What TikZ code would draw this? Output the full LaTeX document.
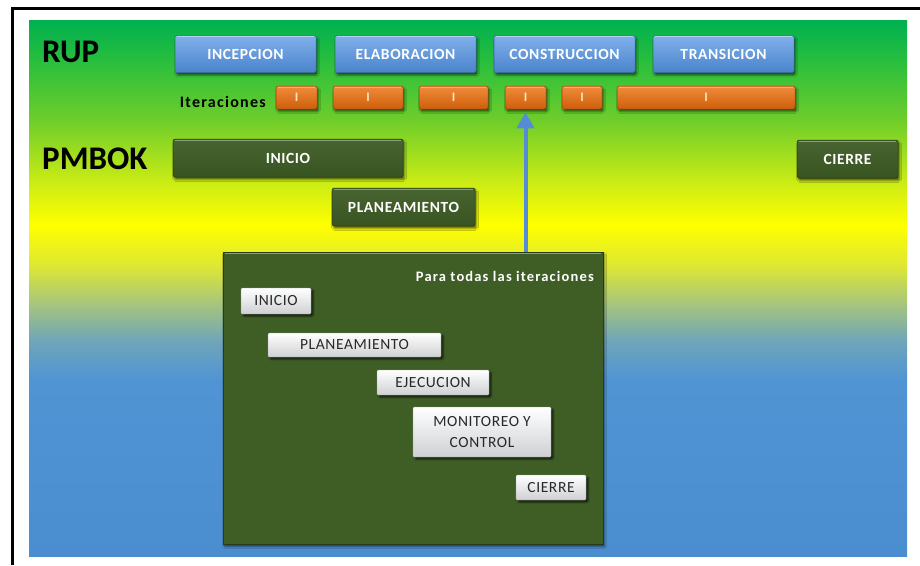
\documentclass[tikz,border=0pt]{standalone}
\usepackage{fontspec}
\setmainfont{Carlito}
\newfontfamily\boxfont[LetterSpace=4]{Carlito}
\newfontfamily\widefont[LetterSpace=8]{Carlito}
\newfontfamily\headfont{Carlito}
\usetikzlibrary{arrows.meta,shadows.blur}

% background fade, bottom to top; the shaded area spans 25bp..75bp
\definecolor{bgA}{RGB}{75,142,208}
\definecolor{bgB}{RGB}{80,148,212}
\definecolor{bgC}{RGB}{112,166,184}
\definecolor{bgD}{RGB}{172,200,118}
\definecolor{bgE}{RGB}{222,232,50}
\definecolor{bgF}{RGB}{255,255,0}
\definecolor{bgG}{RGB}{200,235,22}
\definecolor{bgH}{RGB}{110,205,42}
\definecolor{bgI}{RGB}{40,190,62}
\definecolor{bgJ}{RGB}{0,176,80}
\pgfdeclareverticalshading{bgfade}{100bp}{%
  color(0bp)=(bgA); color(25bp)=(bgA); color(41.42bp)=(bgB);
  color(45.15bp)=(bgC); color(48.88bp)=(bgD); color(52.14bp)=(bgE);
  color(55.88bp)=(bgF); color(60.07bp)=(bgG); color(65.67bp)=(bgH);
  color(71.27bp)=(bgI); color(75bp)=(bgJ); color(100bp)=(bgJ)}

\definecolor{phaseTop}{RGB}{128,176,234}
\definecolor{phaseBot}{RGB}{74,132,204}
\definecolor{phaseEdge}{RGB}{60,104,160}
\definecolor{iterTop}{RGB}{240,140,60}
\definecolor{iterBot}{RGB}{206,94,10}
\definecolor{iterEdge}{RGB}{150,70,10}
\definecolor{iterText}{RGB}{252,228,190}
\definecolor{pmTop}{RGB}{72,100,48}
\definecolor{pmBot}{RGB}{56,84,32}
\definecolor{pmEdge}{RGB}{40,58,25}
\definecolor{pmRim}{RGB}{140,160,125}
\definecolor{panelFill}{RGB}{62,94,38}
\definecolor{stepText}{RGB}{40,40,40}
\definecolor{stepBot}{RGB}{206,208,210}
\definecolor{stepEdge}{RGB}{150,150,150}
\definecolor{arrowBlue}{RGB}{86,140,214}

\begin{document}
\begin{tikzpicture}[x=1pt,y=-1pt,
  boxshadow/.style={blur shadow={shadow xshift=1.5pt,shadow yshift=-2.5pt,
      shadow blur radius=2pt,shadow opacity=60}},
  rim/.style={path picture={\draw[#1,line width=1.2pt]
      ([xshift=2pt,yshift=-1.3pt]path picture bounding box.north west) --
      ([xshift=-2pt,yshift=-1.3pt]path picture bounding box.north east);}},
  phase/.style={rectangle,rounded corners=1.5pt,inner sep=0pt,
    minimum width=141pt,minimum height=37pt,
    top color=phaseTop,bottom color=phaseBot,draw=phaseEdge,line width=0.5pt,
    boxshadow,rim={phaseTop!60!white},
    text=white,font=\boxfont\fontsize{15.5}{18}\selectfont\bfseries},
  iter/.style={rectangle,rounded corners=1.5pt,inner sep=0pt,
    minimum height=23pt,
    top color=iterTop,bottom color=iterBot,draw=iterEdge,line width=0.5pt,
    boxshadow,rim={iterTop!70!white},
    text=iterText,font=\headfont\fontsize{13}{14}\selectfont\bfseries},
  pmbox/.style={rectangle,rounded corners=1.5pt,inner sep=0pt,
    minimum height=38pt,
    top color=pmTop,bottom color=pmBot,draw=pmEdge,line width=0.5pt,
    boxshadow,rim=pmRim,
    text=white,font=\boxfont\fontsize{15.5}{18}\selectfont\bfseries},
  panel/.style={rectangle,inner sep=0pt,fill=panelFill,draw=pmEdge,
    line width=0.5pt,boxshadow,rim=pmRim},
  stepbox/.style={rectangle,rounded corners=1pt,inner sep=0pt,
    top color=white,bottom color=stepBot,draw=stepEdge,line width=0.4pt,
    blur shadow={shadow xshift=2pt,shadow yshift=-2pt,
      shadow blur radius=1.5pt,shadow opacity=70},
    text=stepText,align=center,
    font=\boxfont\fontsize{15.5}{21}\selectfont},
  title/.style={font=\headfont\fontsize{33}{36}\selectfont\bfseries,
    text=black,inner sep=0pt},
  link/.style={arrowBlue,line width=4pt,
    -{Triangle[width=17pt,length=16pt]}}
]
\useasboundingbox (0,0) rectangle (920,565);
\fill[white] (0,0) rectangle (920,565);

% fading background and the outer frame
\shade[shading=bgfade] (29,20) rectangle (907,556);
\draw[line width=3pt] (12.5,565) -- (12.5,8.5) -- (920,8.5);

% row titles
\node[title,anchor=base west] (rup) at (42,62) {RUP};
\node[title,anchor=base west] (pmbok) at (42,169) {PMBOK};

% RUP phases
\node[phase] (incep) at (245.5,54) {INCEPCION};
\node[phase] (elab)  at (405.5,54) {ELABORACION};
\node[phase] (const) at (564.5,54) {CONSTRUCCION};
\node[phase] (trans) at (723.5,54) {TRANSICION};

% iterations
\node[font=\widefont\fontsize{16}{18}\selectfont\bfseries,anchor=base east,
  inner sep=0pt] (iterlbl) at (266,107) {Iteraciones};
\node[iter,minimum width=41pt]  (it1) at (296.5,97.5) {I};
\node[iter,minimum width=70pt]  (it2) at (368,97.5)   {I};
\node[iter,minimum width=69pt]  (it3) at (453.5,97.5) {I};
\node[iter,minimum width=41pt]  (it4) at (525.5,97.5) {I};
\node[iter,minimum width=40pt]  (it5) at (582,97.5)   {I};
\node[iter,minimum width=178pt] (it6) at (706,97.5)   {I};

% PMBOK process groups
\node[pmbox,minimum width=230pt] (pinicio) at (288,158)   {INICIO};
\node[pmbox,minimum width=143pt] (pplan)   at (403.5,207) {PLANEAMIENTO};
\node[pmbox,minimum width=101pt] (pcierre) at (847.5,159) {CIERRE};

% per-iteration panel
\node[panel,minimum width=380pt,minimum height=292pt] (panel) at (413,398) {};
\node[font=\widefont\fontsize{14.5}{17}\selectfont\bfseries,text=white,
  anchor=base east,inner sep=0pt] (ptitle) at (594,281)
  {Para todas las iteraciones};

\node[stepbox,minimum width=70pt,minimum height=26pt]  (sinicio) at (276,301)   {INICIO};
\node[stepbox,minimum width=173pt,minimum height=24pt] (splan)   at (354.5,345) {PLANEAMIENTO};
\node[stepbox,minimum width=112pt,minimum height=25pt] (sejec)   at (433,382.5) {EJECUCION};
\node[stepbox,minimum width=138pt,minimum height=50pt] (smon)    at (482,432)   {MONITOREO Y\\CONTROL};
\node[stepbox,minimum width=70pt,minimum height=25pt]  (scierre) at (551,487.5) {CIERRE};

% the panel applies to every iteration
\draw[link,shorten >=3pt] (panel.north -| it4.south) -- (it4.south);
\end{tikzpicture}
\end{document}
